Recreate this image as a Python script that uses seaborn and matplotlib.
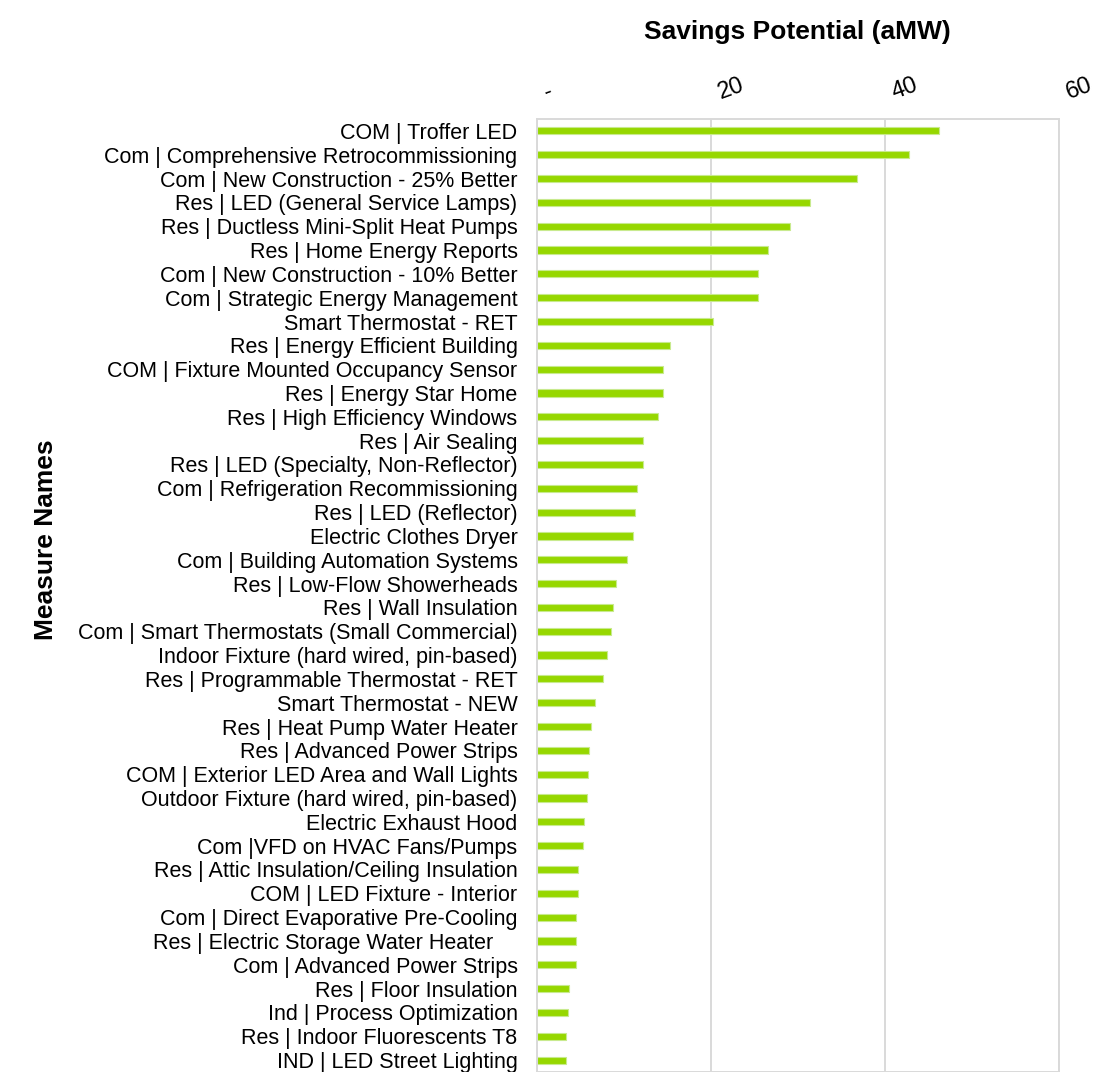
import pandas as pd
import seaborn as sns
import matplotlib.pyplot as plt
from matplotlib.transforms import ScaledTranslation

measures = [
    "COM | Troffer LED",
    "Com | Comprehensive Retrocommissioning",
    "Com | New Construction - 25% Better",
    "Res | LED (General Service Lamps)",
    "Res | Ductless Mini-Split Heat Pumps",
    "Res | Home Energy Reports",
    "Com | New Construction - 10% Better",
    "Com | Strategic Energy Management",
    "Smart Thermostat - RET",
    "Res | Energy Efficient Building",
    "COM | Fixture Mounted Occupancy Sensor",
    "Res | Energy Star Home",
    "Res | High Efficiency Windows",
    "Res | Air Sealing",
    "Res | LED (Specialty, Non-Reflector)",
    "Com | Refrigeration Recommissioning",
    "Res | LED (Reflector)",
    "Electric Clothes Dryer",
    "Com | Building Automation Systems",
    "Res | Low-Flow Showerheads",
    "Res | Wall Insulation",
    "Com | Smart Thermostats (Small Commercial)",
    "Indoor Fixture (hard wired, pin-based)",
    "Res | Programmable Thermostat - RET",
    "Smart Thermostat - NEW",
    "Res | Heat Pump Water Heater",
    "Res | Advanced Power Strips",
    "COM | Exterior LED Area and Wall Lights",
    "Outdoor Fixture (hard wired, pin-based)",
    "Electric Exhaust Hood",
    "Com |VFD on HVAC Fans/Pumps",
    "Res | Attic Insulation/Ceiling Insulation",
    "COM | LED Fixture - Interior",
    "Com | Direct Evaporative Pre-Cooling",
    "Res | Electric Storage Water Heater    ",
    "Com | Advanced Power Strips",
    "Res | Floor Insulation",
    "Ind | Process Optimization",
    "Res | Indoor Fluorescents T8",
    "IND | LED Street Lighting",
]

savings_amw = [
    46.2, 42.8, 36.8, 31.4, 29.1, 26.6, 25.4, 25.4, 20.2, 15.3,
    14.5, 14.5, 13.9, 12.2, 12.2, 11.45, 11.3, 11.0, 10.35, 9.1,
    8.7, 8.5, 8.0, 7.6, 6.7, 6.15, 5.95, 5.9, 5.8, 5.35,
    5.3, 4.7, 4.7, 4.5, 4.5, 4.45, 3.7, 3.6, 3.35, 3.3,
]

x_ticks = [0, 20, 40, 60]
x_tick_labels = ["-", "20", "40", "60"]

df = pd.DataFrame({"measure": measures, "savings": savings_amw})

sns.set_style("white")
plt.rcParams["font.family"] = ["Liberation Sans", "DejaVu Sans"]
plt.rcParams["text.color"] = "black"
plt.rcParams["xtick.color"] = "black"
plt.rcParams["ytick.color"] = "black"

fig = plt.figure(figsize=(10.97, 10.72), dpi=100)
ax = fig.add_axes([0.4895, 0.0, 0.476, 0.889])

sns.barplot(data=df, x="savings", y="measure", orient="h", color="#96D700",
            saturation=1, width=0.3, edgecolor="#C8EA8E", linewidth=0.8, ax=ax)

ax.set_xlim(0, 60)
ax.set_xticks(x_ticks)
ax.xaxis.tick_top()
ax.set_xticklabels(x_tick_labels, fontsize=17, rotation=20, ha="left",
                   rotation_mode="anchor")
ax.tick_params(axis="x", length=0, pad=11)
ax.tick_params(axis="y", length=0, pad=14, labelsize=15.5)

# nudge the slanted top labels to the right like the original
shift = ScaledTranslation(8 / 72, 0, fig.dpi_scale_trans)
for lbl in ax.get_xticklabels():
    lbl.set_transform(lbl.get_transform() + shift)

ax.grid(axis="x", color="#D9D9D9", linewidth=1.4)
ax.set_axisbelow(True)
for s in ax.spines.values():
    s.set_color("#D9D9D9")
    s.set_linewidth(1.4)

ax.set_xlabel("")
ax.set_ylabel("")
fig.text(0.727, 0.97, "Savings Potential (aMW)", ha="center", va="center",
         fontsize=19, fontweight="bold")
fig.text(0.042, 0.497, "Measure Names", ha="center", va="center", rotation=90,
         fontsize=19, fontweight="bold")

fig.savefig("out.png", dpi=100)
